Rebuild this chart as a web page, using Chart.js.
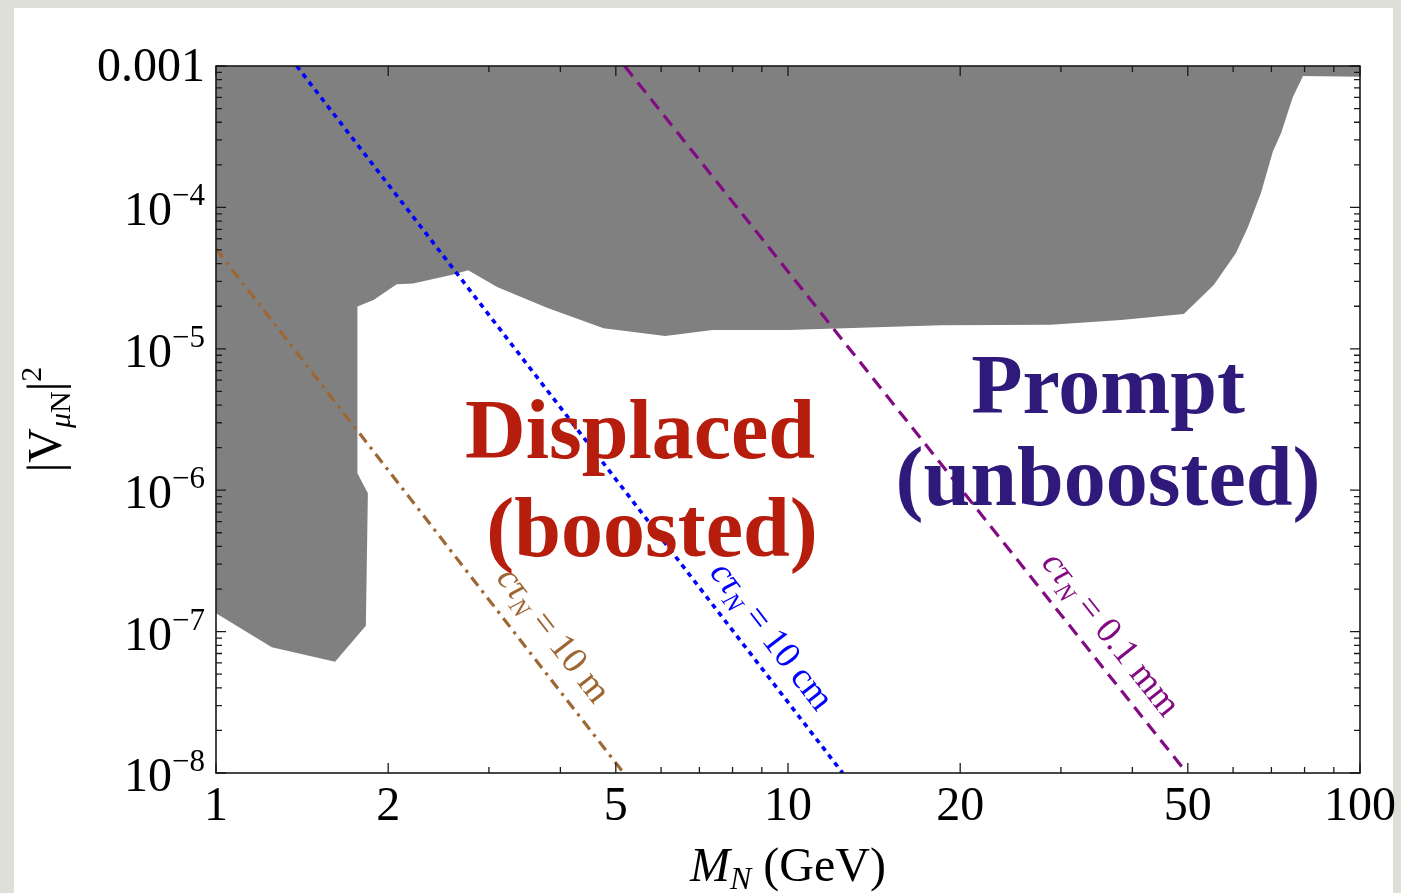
<!DOCTYPE html>
<html><head><meta charset="utf-8">
<script src="https://cdn.jsdelivr.net/npm/chart.js@4.4.1/dist/chart.umd.min.js"></script>
<style>
html,body{margin:0;padding:0;width:1401px;height:893px;overflow:hidden;background:#dedfd9;}
#panel{position:absolute;left:14px;top:8px;width:1379px;height:900px;background:#ffffff;}
#c{position:absolute;left:0;top:0;}
</style></head><body>
<div id="panel"></div>
<canvas id="c" width="1401" height="893"></canvas>
<script>
// ---- data ----
// lower edge of the excluded (grey) region: mass M_N (GeV) and mixing |V_muN|^2
const excludedMass   = [1, 1.252, 1.615, 1.828, 1.843, 1.767, 1.767, 1.885, 2.07, 2.21, 2.60, 2.76, 3.10, 3.80, 4.76, 6.10, 7.38, 10, 18.5, 28.8, 38.2, 49.2, 55.5, 60.7, 63.7, 67.1, 70.4, 72.8, 76.3, 79.5, 100];
const excludedMixing = [1.35e-7, 7.74e-8, 6.12e-8, 1.10e-7, 9.5e-7, 1.32e-6, 1.99e-5, 2.21e-5, 2.86e-5, 2.9e-5, 3.35e-5, 3.6e-5, 2.74e-5, 1.94e-5, 1.40e-5, 1.23e-5, 1.36e-5, 1.36e-5, 1.47e-5, 1.48e-5, 1.6e-5, 1.76e-5, 2.83e-5, 4.76e-5, 7.27e-5, 1.26e-4, 2.47e-4, 3.36e-4, 6.0e-4, 8.5e-4, 8.4e-4];

// constant decay-length lines (end points)
const ctau10mMass    = [1, 5.16];
const ctau10mMixing  = [5.1e-5, 1e-8];
const ctau10cmMass   = [1.384, 12.46];
const ctau10cmMixing = [1e-3, 1e-8];
const ctau01mmMass   = [5.18, 49.8];
const ctau01mmMixing = [1e-3, 1e-8];

// label anchors (text centre) for the decay-length lines
const lineLabelText  = ['10 m', '10 cm', '0.1 mm'];
const lineLabelMass  = [3.89, 9.36, 36.7];
const lineLabelMix   = [9.46e-8, 9.3e-8, 9.6e-8];

// axis ticks
const xTickValues = [1, 2, 5, 10, 20, 50, 100];
const xTickLabels = ['1', '2', '5', '10', '20', '50', '100'];
const xMinorTicks = [3, 4, 6, 7, 8, 9, 30, 40, 60, 70, 80, 90];
const yTickValues = [1e-3, 1e-4, 1e-5, 1e-6, 1e-7, 1e-8];
const yTickBase   = ['0.001', '10', '10', '10', '10', '10'];
const yTickExp    = ['', '\u22124', '\u22125', '\u22126', '\u22127', '\u22128'];
const yMinorMult  = [2, 3, 4, 5, 6, 7, 8, 9];

const pts = (xs, ys) => xs.map((x, i) => ({x: x, y: ys[i]}));
const SERIF = '"Liberation Serif", "Times New Roman", serif';

function drawRich(ctx, parts, x, y, align) {
  let w = 0;
  for (const p of parts) { ctx.font = p.font; w += ctx.measureText(p.t).width; }
  let cx = align === 'center' ? x - w / 2 : (align === 'right' ? x - w : x);
  ctx.textAlign = 'left';
  ctx.textBaseline = 'alphabetic';
  for (const p of parts) {
    ctx.font = p.font;
    ctx.fillText(p.t, cx, y + (p.dy || 0));
    cx += ctx.measureText(p.t).width;
  }
}

const lineColors = ['#9d6632', '#0000ff', '#820a82'];
const lineSets = [
  [ctau10mMass, ctau10mMixing],
  [ctau10cmMass, ctau10cmMixing],
  [ctau01mmMass, ctau01mmMixing]
];

const decor = {
  id: 'decor',
  afterDatasetsDraw(chart) {
    const ctx = chart.ctx, xs = chart.scales.x, ys = chart.scales.y, a = chart.chartArea;
    ctx.save();
    // frame
    ctx.strokeStyle = '#1a1a1a';
    ctx.lineWidth = 1.6;
    ctx.strokeRect(a.left, a.top, a.right - a.left, a.bottom - a.top);
    // ticks
    ctx.lineWidth = 1.3;
    ctx.beginPath();
    const xt = (v, len) => {
      const px = xs.getPixelForValue(v);
      ctx.moveTo(px, a.bottom); ctx.lineTo(px, a.bottom - len);
      ctx.moveTo(px, a.top); ctx.lineTo(px, a.top + len);
    };
    const yt = (v, len) => {
      const py = ys.getPixelForValue(v);
      ctx.moveTo(a.left, py); ctx.lineTo(a.left + len, py);
      ctx.moveTo(a.right, py); ctx.lineTo(a.right - len, py);
    };
    xTickValues.forEach(v => xt(v, 10));
    xMinorTicks.forEach(v => xt(v, 6));
    yTickValues.forEach(v => yt(v, 10));
    yTickValues.slice(1).forEach(d => yMinorMult.forEach(m => yt(d * m, 6)));
    ctx.stroke();

    ctx.fillStyle = '#000';
    // x tick labels
    ctx.font = '48px ' + SERIF;
    ctx.textAlign = 'center';
    ctx.textBaseline = 'alphabetic';
    xTickValues.forEach((v, i) => ctx.fillText(xTickLabels[i], xs.getPixelForValue(v), a.bottom + 47));
    // y tick labels
    yTickValues.forEach((v, i) => {
      const py = ys.getPixelForValue(v);
      if (yTickExp[i]) {
        drawRich(ctx, [
          {t: yTickBase[i], font: '48px ' + SERIF},
          {t: yTickExp[i], font: '31px ' + SERIF, dy: -20}
        ], a.left - 11, py + 18, 'right');
      } else {
        drawRich(ctx, [{t: yTickBase[i], font: '48px ' + SERIF}], a.left - 11, py + 15, 'right');
      }
    });
    // axis titles
    drawRich(ctx, [
      {t: 'M', font: 'italic 48px ' + SERIF},
      {t: 'N', font: 'italic 32px ' + SERIF, dy: 8},
      {t: ' (GeV)', font: '48px ' + SERIF}
    ], (a.left + a.right) / 2, 881, 'center');
    ctx.save();
    ctx.translate(61, (a.top + a.bottom) / 2);
    ctx.rotate(-Math.PI / 2);
    drawRich(ctx, [
      {t: '|V', font: '48px ' + SERIF},
      {t: '\u03bc', font: 'italic 30px ' + SERIF, dy: 9},
      {t: 'N', font: '30px ' + SERIF, dy: 9},
      {t: '|', font: '48px ' + SERIF},
      {t: '2', font: '30px ' + SERIF, dy: -20}
    ], 0, 0, 'center');
    ctx.restore();

    // decay-length labels
    lineSets.forEach((ls, i) => {
      const x1 = xs.getPixelForValue(ls[0][0]), y1 = ys.getPixelForValue(ls[1][0]);
      const x2 = xs.getPixelForValue(ls[0][1]), y2 = ys.getPixelForValue(ls[1][1]);
      const ang = Math.atan2(y2 - y1, x2 - x1);
      ctx.save();
      ctx.fillStyle = lineColors[i];
      ctx.translate(xs.getPixelForValue(lineLabelMass[i]), ys.getPixelForValue(lineLabelMix[i]));
      ctx.rotate(ang);
      drawRich(ctx, [
        {t: 'c\u03c4', font: 'italic 37px ' + SERIF},
        {t: 'N', font: 'italic 25px ' + SERIF, dy: 7},
        {t: ' = ' + lineLabelText[i], font: '37px ' + SERIF}
      ], 0, 11, 'center');
      ctx.restore();
    });

    // region labels
    ctx.textAlign = 'center';
    ctx.textBaseline = 'alphabetic';
    ctx.font = 'bold 84px ' + SERIF;
    ctx.fillStyle = '#b61d0c';
    ctx.fillText('Displaced', 640, 458);
    ctx.fillText('(boosted)', 652, 556);
    ctx.fillStyle = '#2f1a7c';
    ctx.fillText('Prompt', 1108, 413);
    ctx.fillText('(unboosted)', 1108, 505);
    ctx.restore();
  }
};

new Chart(document.getElementById('c'), {
  type: 'scatter',
  data: {
    datasets: [
      {data: pts(ctau10mMass, ctau10mMixing), showLine: true, borderColor: lineColors[0], borderWidth: 3.2,
       borderDash: [11, 6, 3, 6], pointRadius: 0, fill: false},
      {data: pts(ctau10cmMass, ctau10cmMixing), showLine: true, borderColor: lineColors[1], borderWidth: 3.6,
       borderDash: [5, 5], pointRadius: 0, fill: false},
      {data: pts(ctau01mmMass, ctau01mmMixing), showLine: true, borderColor: lineColors[2], borderWidth: 3.2,
       borderDash: [13, 8], pointRadius: 0, fill: false},
      {data: pts(excludedMass, excludedMixing), showLine: true, borderWidth: 0, borderColor: 'rgba(0,0,0,0)',
       backgroundColor: '#808080', pointRadius: 0, fill: 'end', tension: 0}
    ]
  },
  options: {
    responsive: false,
    animation: false,
    devicePixelRatio: 1,
    layout: {padding: {left: 216, top: 66, right: 41, bottom: 120}},
    scales: {
      x: {type: 'logarithmic', min: 1, max: 100, display: false},
      y: {type: 'logarithmic', min: 1e-8, max: 1e-3, display: false}
    },
    plugins: {
      legend: {display: false},
      tooltip: {enabled: false},
      filler: {drawTime: 'beforeDatasetsDraw'}
    }
  },
  plugins: [decor]
});
</script>
</body></html>
